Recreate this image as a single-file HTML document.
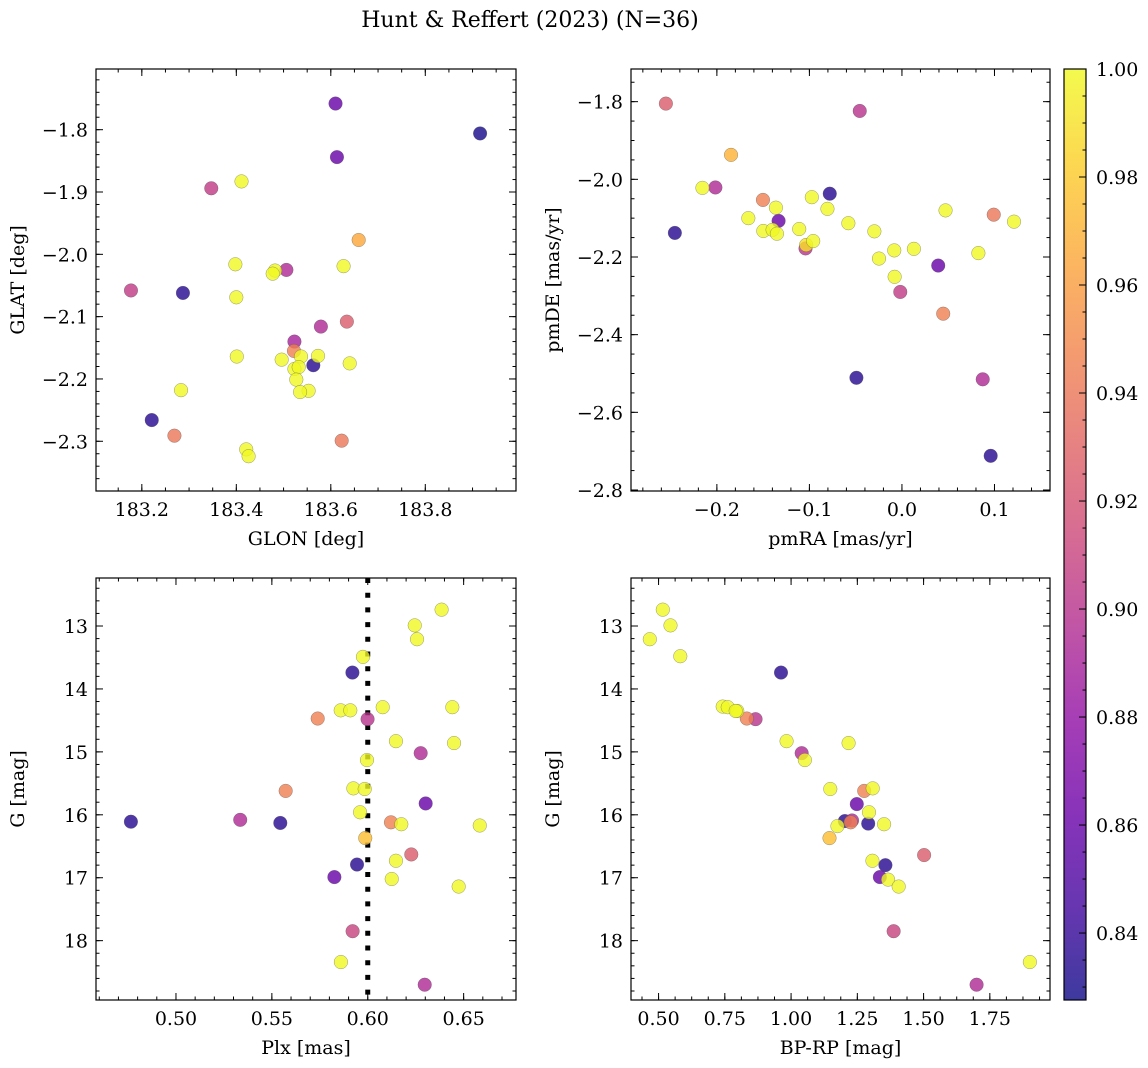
<!DOCTYPE html>
<html><head><meta charset="utf-8"><style>
html,body{margin:0;padding:0;background:#fff;}
svg{display:block;font-family:"DejaVu Serif","Liberation Serif",serif;}
</style></head><body>
<svg id="chart" width="1148" height="1068" xmlns="http://www.w3.org/2000/svg">
<text x="530" y="27" font-size="22" text-anchor="middle">Hunt &amp; Reffert (2023) (N=36)</text>
</svg>
<script>
// ---- data ----
const glon = [183.610,183.916,183.613,183.347,183.411,183.659,183.398,183.627,183.482,183.477,183.506,183.177,183.287,183.400,183.579,183.634,183.523,183.522,183.401,183.496,183.537,183.573,183.563,183.640,183.523,183.532,183.527,183.553,183.535,183.283,183.221,183.269,183.623,183.421,183.426];
const glat = [-1.758,-1.806,-1.844,-1.894,-1.883,-1.977,-2.016,-2.019,-2.026,-2.031,-2.025,-2.058,-2.062,-2.069,-2.116,-2.108,-2.140,-2.155,-2.164,-2.169,-2.164,-2.163,-2.178,-2.175,-2.184,-2.181,-2.201,-2.219,-2.221,-2.218,-2.266,-2.291,-2.299,-2.313,-2.324];
const probPos = [0.86,0.83,0.86,0.905,1,0.965,1,1,1,1,0.895,0.905,0.835,1,0.895,0.925,0.89,0.945,1,1,1,1,0.835,1,1,1,1,1,1,1,0.835,0.94,0.94,1,1];

const pmra = [-0.2551,-0.0456,-0.1847,-0.2156,-0.2016,-0.078,-0.0974,-0.1502,-0.1362,-0.0805,0.0471,0.0992,0.1211,-0.166,-0.1333,-0.0579,-0.2454,-0.1498,-0.1398,-0.1351,-0.111,-0.0298,-0.0959,-0.1042,-0.1035,0.0129,-0.0083,-0.0248,0.0826,0.0392,-0.0079,-0.0018,0.0446,-0.0492,0.0873,0.0959];
const pmde = [-1.805,-1.824,-1.937,-2.022,-2.021,-2.037,-2.046,-2.053,-2.073,-2.076,-2.080,-2.091,-2.109,-2.100,-2.107,-2.113,-2.138,-2.133,-2.130,-2.140,-2.128,-2.134,-2.159,-2.178,-2.169,-2.179,-2.183,-2.204,-2.190,-2.222,-2.251,-2.290,-2.346,-2.511,-2.515,-2.712];
const probPm = [0.925,0.9,0.97,1,0.895,0.835,1,0.945,1,1,1,0.94,1,1,0.86,1,0.835,1,1,1,1,1,1,0.9,0.99,1,1,1,1,0.86,1,0.905,0.945,0.835,0.895,0.835];

const plx = [0.6385,0.6245,0.6257,0.5975,0.592,0.6078,0.6441,0.5859,0.5909,0.5739,0.5999,0.6147,0.645,0.6276,0.5996,0.5572,0.5925,0.5984,0.6302,0.5960,0.4765,0.5335,0.5544,0.6121,0.6175,0.6584,0.5987,0.6227,0.6147,0.5944,0.5826,0.6125,0.6474,0.5921,0.586,0.6297];
const gmagA = [12.74,12.99,13.21,13.49,13.74,14.29,14.29,14.34,14.34,14.47,14.48,14.83,14.86,15.02,15.13,15.62,15.58,15.59,15.82,15.96,16.11,16.08,16.13,16.12,16.15,16.17,16.37,16.63,16.73,16.79,16.99,17.02,17.14,17.85,18.34,18.70];
const probPlx = [1,1,1,1,0.835,1,1,1,1,0.945,0.9,1,1,0.895,1,0.945,1,1,0.86,1,0.835,0.895,0.835,0.945,1,1,0.975,0.925,1,0.835,0.86,1,1,0.91,1,0.895];
const plxRef = 0.60;

const bprp = [0.516,0.545,0.467,0.582,0.962,0.742,0.761,0.797,0.791,0.833,0.866,0.983,1.217,1.040,1.052,1.148,1.276,1.308,1.248,1.294,1.203,1.230,1.225,1.291,1.175,1.351,1.145,1.502,1.307,1.356,1.335,1.366,1.406,1.387,1.901,1.700];
const gmagB = [12.74,12.99,13.21,13.48,13.74,14.28,14.29,14.35,14.35,14.47,14.48,14.83,14.86,15.02,15.13,15.59,15.62,15.58,15.83,15.96,16.10,16.09,16.12,16.14,16.18,16.15,16.37,16.64,16.73,16.80,16.99,17.03,17.14,17.85,18.34,18.70];
const probCmd = [1,1,1,1,0.835,1,1,1,1,0.945,0.9,1,1,0.895,1,1,0.945,1,0.86,1,0.835,0.895,0.945,0.835,1,1,0.975,0.925,1,0.835,0.86,1,1,0.91,1,0.895];

const cbTicks = [0.84,0.86,0.88,0.90,0.92,0.94,0.96,0.98,1.00];
const vmin = 0.8276, vmax = 1.0;

// ---- helpers ----
const svg = document.getElementById('chart');
const NS = 'http://www.w3.org/2000/svg';
const FS = 19;
function mk(tag, attrs, parent){ const e=document.createElementNS(NS,tag); for(const k in attrs) e.setAttribute(k,attrs[k]); (parent||svg).appendChild(e); return e; }
const stops=['#0d0887','#41049d','#6a00a8','#8f0da4','#b12a90','#cc4778','#e16462','#f2844b','#fca636','#fcce25','#f0f921'];
function hex(h){return [parseInt(h.slice(1,3),16),parseInt(h.slice(3,5),16),parseInt(h.slice(5,7),16)];}
function plasma(t){ t=Math.max(0,Math.min(1,t)); const f=t*10, i=Math.min(9,Math.floor(f)), u=f-i; const a=hex(stops[i]), b=hex(stops[i+1]); return 'rgb('+a.map((v,k)=>Math.round(v+(b[k]-v)*u)).join(',')+')'; }
function cmap(v){ return plasma((v-vmin)/(vmax-vmin)); }
function fmt(v,d){ const s=v.toFixed(d); return s.replace('-','\u2212'); }

function panel(name, box, xd, yd, xt, yt, xminorStep, yminorStep, xdec, ydec, xlabel, ylabel, invertY){
  const [L,T,R,B]=box;
  const sx=v=>L+(v-xd[0])/(xd[1]-xd[0])*(R-L);
  const sy=invertY? (v=>T+(v-yd[0])/(yd[1]-yd[0])*(B-T)) : (v=>B-(v-yd[0])/(yd[1]-yd[0])*(B-T));
  const g=mk('g',{});
  
  
  const ticks=mk('g',{stroke:'#000','stroke-width':1},g);
  
  
  for(let v=Math.ceil(xd[0]/xminorStep)*xminorStep; v<=xd[1]; v+=xminorStep){ const x=sx(v); mk('line',{x1:x,x2:x,y1:B,y2:B-3.5},ticks); mk('line',{x1:x,x2:x,y1:T,y2:T+3.5},ticks); }
  const ylo=Math.min(yd[0],yd[1]), yhi=Math.max(yd[0],yd[1]);
  for(let v=Math.ceil(ylo/yminorStep)*yminorStep; v<=yhi; v+=yminorStep){ const y=sy(v); mk('line',{x1:L,x2:L+3.5,y1:y,y2:y},ticks); mk('line',{x1:R,x2:R-3.5,y1:y,y2:y},ticks); }
  xt.forEach(v=>{ const x=sx(v); mk('line',{x1:x,x2:x,y1:B,y2:B-7},ticks); mk('line',{x1:x,x2:x,y1:T,y2:T+7},ticks);
    const t=mk('text',{x:x,y:B+25,'font-size':FS,'text-anchor':'middle'},g); t.textContent=fmt(v,xdec);
      });
  yt.forEach(v=>{ const y=sy(v); mk('line',{x1:L,x2:L+7,y1:y,y2:y},ticks); mk('line',{x1:R,x2:R-7,y1:y,y2:y},ticks);
    const t=mk('text',{x:L-8,y:y+7,'font-size':FS,'text-anchor':'end'},g); t.textContent=fmt(v,ydec);
      });
  const xl=mk('text',{x:(L+R)/2,y:B+54,'font-size':FS,'text-anchor':'middle'},g); xl.textContent=xlabel;
   
  const yx=L-72, yy=(T+B)/2;
  const yl=mk('text',{x:yx,y:yy,'font-size':FS,'text-anchor':'middle',transform:'rotate(-90 '+yx+' '+yy+')'},g); yl.textContent=ylabel;
   
  const frame=mk('rect',{x:L,y:T,width:R-L,height:B-T,fill:'none',stroke:'#000','stroke-width':1.2},g);
   
  return {g,sx,sy};
}
function scatter(p, name, xs, ys, cs){
  const idx=xs.map((_,i)=>i).sort((a,b)=>cs[a]-cs[b]);
  idx.forEach(i=>{
    const c=mk('circle',{cx:p.sx(xs[i]),cy:p.sy(ys[i]),r:6.8,fill:cmap(cs[i]),'fill-opacity':0.8,stroke:'#555','stroke-opacity':0.6,'stroke-width':0.5},p.g);
    
    
  });
}

const p1=panel('position-panel',[96,69,516,491],[183.103,183.992],[-2.3798,-1.7026],[183.2,183.4,183.6,183.8],[-2.3,-2.2,-2.1,-2.0,-1.9,-1.8],0.05,0.02,1,1,'GLON [deg]','GLAT [deg]',false);
scatter(p1,'position',glon,glat,probPos);
const p2=panel('proper-motion-panel',[631,69,1050,491],[-0.2928,0.160],[-2.8026,-1.7159],[-0.2,-0.1,0.0,0.1],[-2.8,-2.6,-2.4,-2.2,-2.0,-1.8],0.02,0.05,1,1,'pmRA [mas/yr]','pmDE [mas/yr]',false);
scatter(p2,'proper-motion',pmra,pmde,probPm);
const p3=panel('parallax-panel',[96,578,516,1000],[0.4583,0.6773],[12.237,18.943],[0.50,0.55,0.60,0.65],[13,14,15,16,17,18],0.01,0.2,2,0,'Plx [mas]','G [mag]',true);
const ref=mk('line',{x1:p3.sx(plxRef),x2:p3.sx(plxRef),y1:578,y2:1000,stroke:'#000','stroke-width':5,'stroke-dasharray':'5 9.7'},p3.g);


scatter(p3,'parallax',plx,gmagA,probPlx);
const p4=panel('cmd-panel',[631,578,1050,1000],[0.396,1.977],[12.237,18.943],[0.50,0.75,1.00,1.25,1.50,1.75],[13,14,15,16,17,18],0.0625,0.2,2,0,'BP-RP [mag]','G [mag]',true);
scatter(p4,'cmd',bprp,gmagB,probCmd);

const cb=mk('g',{});


const defs=mk('defs',{},cb);
const lg=mk('linearGradient',{id:'pl',x1:0,y1:1,x2:0,y2:0},defs);
stops.forEach((s,i)=>mk('stop',{offset:(i*10)+'%','stop-color':s,'stop-opacity':0.8},lg));
const CT=69, CB=1000, CL=1064, CR=1086;
const cy=v=>CB-(v-vmin)/(vmax-vmin)*(CB-CT);
mk('rect',{x:CL,y:CT,width:CR-CL,height:CB-CT,fill:'url(#pl)',stroke:'#000','stroke-width':1.2},cb);
for(let v=0.83; v<=1.0001; v+=0.005){ const y=cy(v); if(y<CT||y>CB) continue; mk('line',{x1:CR,x2:CR-3.5,y1:y,y2:y,stroke:'#000'},cb); }
cbTicks.forEach(v=>{ const y=cy(v); mk('line',{x1:CR,x2:CR-7,y1:y,y2:y,stroke:'#000'},cb);
  const t=mk('text',{x:CR+10,y:y+7,'font-size':FS},cb); t.textContent=v.toFixed(2);
    });
</script>
</body></html>
